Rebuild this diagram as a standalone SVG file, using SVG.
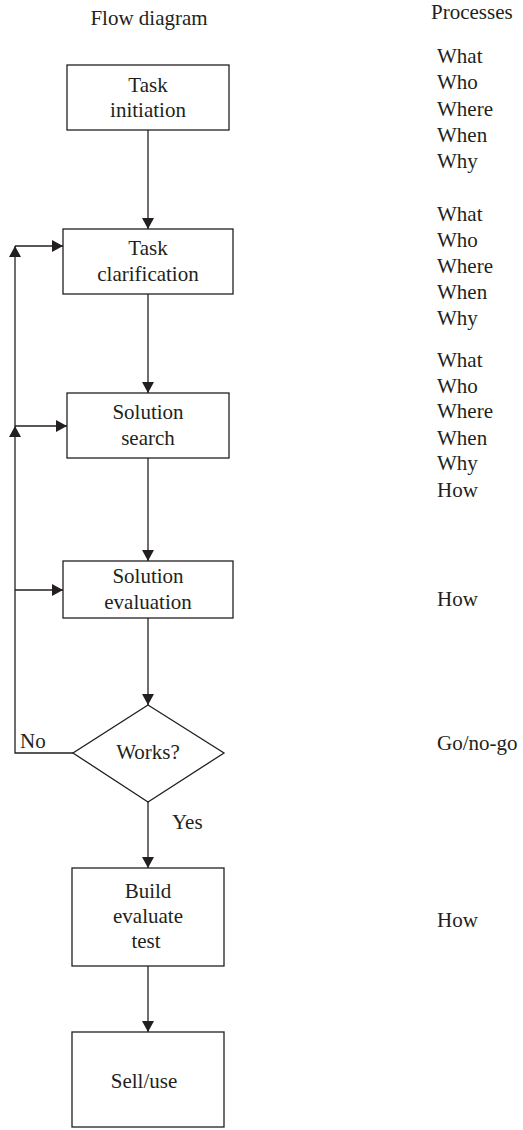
<svg xmlns="http://www.w3.org/2000/svg" width="523" height="1130" viewBox="0 0 523 1130" font-family="'Liberation Serif', 'Times New Roman', serif" font-size="21">
  <style>
    .box { fill: #ffffff; stroke: #231f20; stroke-width: 1.3; }
    .line { fill: none; stroke: #231f20; stroke-width: 1.3; }
    .arrow { marker-end: url(#head); }
    text { font-family: "Liberation Serif", "Times New Roman", serif; font-size: 21px; fill: #231f20; }
    .c { text-anchor: middle; }
  </style>
  <defs>
    <marker id="head" markerUnits="userSpaceOnUse" markerWidth="11" markerHeight="12" refX="11" refY="6" orient="auto">
      <path d="M0,0 L11,6 L0,12 z" fill="#231f20"/>
    </marker>
  </defs>
  <rect width="523" height="1130" fill="#ffffff"/>

  <!-- column headings -->
  <text class="c" x="149" y="25">Flow diagram</text>
  <text x="431" y="19">Processes</text>

  <!-- connectors -->
  <g id="connectors">
    <line class="line arrow" x1="148" y1="130" x2="148" y2="229"/>
    <line class="line arrow" x1="148" y1="294" x2="148" y2="393"/>
    <line class="line arrow" x1="148" y1="458" x2="148" y2="561"/>
    <line class="line arrow" x1="148" y1="618" x2="148" y2="705"/>
    <line class="line arrow" x1="148" y1="802" x2="148" y2="868"/>
    <line class="line arrow" x1="148" y1="966" x2="148" y2="1032"/>
    <!-- "No" feedback loop -->
    <polyline class="line" points="73,753 15,753 15,590"/>
    <line class="line arrow" x1="15" y1="590" x2="15" y2="426"/>
    <line class="line arrow" x1="15" y1="426" x2="15" y2="246"/>
    <line class="line arrow" x1="15" y1="246" x2="63" y2="246"/>
    <line class="line arrow" x1="15" y1="426" x2="67" y2="426"/>
    <line class="line arrow" x1="15" y1="590" x2="63" y2="590"/>
    <text x="20" y="748">No</text>
    <text x="172" y="829">Yes</text>
  </g>

  <g id="task-initiation">
    <rect class="box" x="67" y="65" width="162" height="65"/>
    <text class="c" x="148" y="92">Task</text>
    <text class="c" x="148" y="117">initiation</text>
  </g>

  <g id="task-clarification">
    <rect class="box" x="63" y="229" width="170" height="65"/>
    <text class="c" x="148" y="255">Task</text>
    <text class="c" x="148" y="281">clarification</text>
  </g>

  <g id="solution-search">
    <rect class="box" x="67" y="393" width="162" height="65"/>
    <text class="c" x="148" y="419">Solution</text>
    <text class="c" x="148" y="445">search</text>
  </g>

  <g id="solution-evaluation">
    <rect class="box" x="63" y="561" width="170" height="57"/>
    <text class="c" x="148" y="583">Solution</text>
    <text class="c" x="148" y="609">evaluation</text>
  </g>

  <g id="works">
    <polygon class="box" points="148,705 224,753 148,802 73,753"/>
    <text class="c" x="148" y="759">Works?</text>
  </g>

  <g id="build">
    <rect class="box" x="72" y="868" width="152" height="98"/>
    <text class="c" x="148" y="898">Build</text>
    <text class="c" x="148" y="923">evaluate</text>
    <text class="c" x="146" y="948">test</text>
  </g>

  <g id="sell-use">
    <rect class="box" x="72" y="1032" width="152" height="95"/>
    <text class="c" x="144" y="1088">Sell/use</text>
  </g>

  <!-- process questions -->
  <g id="processes">
    <text x="437" y="63">What</text>
    <text x="437" y="89">Who</text>
    <text x="437" y="116">Where</text>
    <text x="437" y="142">When</text>
    <text x="437" y="168">Why</text>

    <text x="437" y="221">What</text>
    <text x="437" y="247">Who</text>
    <text x="437" y="273">Where</text>
    <text x="437" y="299">When</text>
    <text x="437" y="325">Why</text>

    <text x="437" y="367">What</text>
    <text x="437" y="393">Who</text>
    <text x="437" y="418">Where</text>
    <text x="437" y="445">When</text>
    <text x="437" y="470">Why</text>
    <text x="437" y="497">How</text>

    <text x="437" y="606">How</text>
    <text x="437" y="750">Go/no-go</text>
    <text x="437" y="927">How</text>
  </g>
</svg>
